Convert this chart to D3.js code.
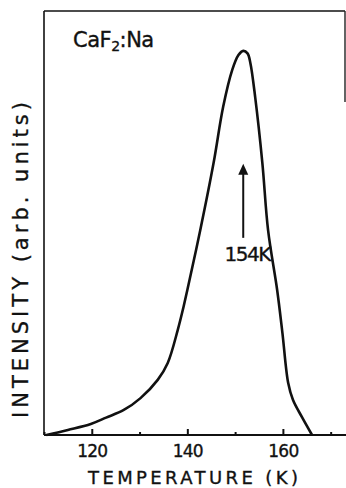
<!DOCTYPE html>
<html>
<head>
<meta charset="utf-8">
<script src="https://cdn.jsdelivr.net/npm/d3@7/dist/d3.min.js"></script>
<style>
  html, body { margin: 0; padding: 0; background: #fff; }
  svg { display: block; }
  text { font-family: "DejaVu Sans", "Liberation Sans", sans-serif; fill: #111; stroke: #111; stroke-width: 0.35px; }
</style>
</head>
<body>
<svg id="chart" width="346" height="488"></svg>
<script>
// Thermoluminescence glow curve of CaF2:Na
const temperature = [110.5, 115, 119.8, 123, 126.7, 130.2, 133.8, 135.9, 138.0, 139.2, 140.0, 142.7, 145.5, 147.5, 149.4, 150.7, 151.7, 152.6, 153.2, 154.2, 155.7, 156.9, 158.8, 159.9, 161.1, 162.1, 164.0, 166.1];
const intensity   = [0,     1.2, 2.6,   4.1, 5.9,   8.7,   13.0,  17.0,  24.8,  30.2,  34.2,  48.3,  64.2,  77.4,  86.1,  89.6,  90.6,  90.0,  87.7,  79.7,  64.2,  48.3,  34.2,  24.1,  12.3,  8.3,   4.2,   0];

const majorTicks = [120, 140, 160];
const minorTicks = [110, 130, 150, 170];
const tickLabels = ["120", "140", "160"];
const peakLabel = "154K";

const svg = d3.select("#chart");
const plotLeft = 44, plotRight = 345, plotTop = 11, plotBottom = 435;

const x = d3.scaleLinear().domain([110, 173]).range([plotLeft, plotRight]);
const y = d3.scaleLinear().domain([0, 100]).range([plotBottom, plotTop]);

// frame: left, top, partial right, bottom axis line
svg.append("line").attr("x1", plotLeft).attr("x2", plotLeft).attr("y1", plotTop).attr("y2", plotBottom)
  .attr("stroke", "#111").attr("stroke-width", 1.6);
svg.append("line").attr("x1", plotLeft).attr("x2", plotRight).attr("y1", plotTop).attr("y2", plotTop)
  .attr("stroke", "#111").attr("stroke-width", 1.6);
svg.append("line").attr("x1", plotRight).attr("x2", plotRight).attr("y1", plotTop).attr("y2", 102)
  .attr("stroke", "#222").attr("stroke-width", 1.4);

// bottom axis with inward ticks
const axisMajor = d3.axisBottom(x).tickValues(majorTicks).tickSize(-6)
  .tickFormat((d, i) => tickLabels[i]).tickPadding(10);
const gAxis = svg.append("g").attr("transform", `translate(0,${plotBottom})`).call(axisMajor);
gAxis.select(".domain").remove();
gAxis.selectAll(".tick line").attr("stroke", "#111").attr("stroke-width", 2);
gAxis.selectAll(".tick text").attr("font-size", 17)
  .style("font-family", '"DejaVu Sans", "Liberation Sans", sans-serif').attr("fill", "#111")
  .attr("dy", "0.72em").attr("letter-spacing", -0.8);

const axisMinor = d3.axisBottom(x).tickValues(minorTicks).tickSize(-3).tickFormat("");
const gMinor = svg.append("g").attr("transform", `translate(0,${plotBottom})`).call(axisMinor);
gMinor.select(".domain").remove();
gMinor.selectAll(".tick line").attr("stroke", "#111").attr("stroke-width", 2);

svg.append("line").attr("x1", plotLeft).attr("x2", 346).attr("y1", plotBottom).attr("y2", plotBottom)
  .attr("stroke", "#111").attr("stroke-width", 2);

// glow curve
const pts = temperature.map((t, i) => [t, intensity[i]]);
const line = d3.line().x(d => x(d[0])).y(d => y(d[1])).curve(d3.curveCatmullRom.alpha(0.5));
svg.append("path").datum(pts).attr("d", line)
  .attr("fill", "none").attr("stroke", "#111").attr("stroke-width", 2.6)
  .attr("stroke-linejoin", "round");

// arrow marking the glow peak
const peak = d3.greatest(pts, d => d[1]);
const ax = x(peak[0]);
const tipY = y(64), baseY = y(61.6), tailY = y(46.5);
svg.append("line").attr("x1", ax).attr("x2", ax).attr("y1", tailY).attr("y2", baseY)
  .attr("stroke", "#111").attr("stroke-width", 2);
svg.append("path")
  .attr("d", `M${ax},${tipY} L${ax - 5},${baseY + 1} L${ax + 5},${baseY + 1} Z`)
  .attr("fill", "#111");
svg.append("text").attr("x", ax + 4).attr("y", 261).attr("text-anchor", "middle")
  .attr("font-size", 20).attr("letter-spacing", -1.5).text(peakLabel);

// sample label
const sample = svg.append("text").attr("x", 73).attr("y", 47).attr("font-size", 21)
  .attr("letter-spacing", -0.5);
sample.append("tspan").text("CaF");
sample.append("tspan").attr("font-size", 14).attr("dy", 4).text("2");
sample.append("tspan").attr("dy", -4).text(":");
sample.append("tspan").text("Na");

// axis titles
svg.append("text").attr("x", 193).attr("y", 484).attr("text-anchor", "middle")
  .attr("font-size", 18).attr("textLength", 210).attr("lengthAdjust", "spacing")
  .text("TEMPERATURE (K)");
svg.append("text").attr("transform", "translate(28,260) rotate(-90)")
  .attr("text-anchor", "middle").attr("font-size", 21)
  .attr("textLength", 316).attr("lengthAdjust", "spacing")
  .text("INTENSITY (arb. units)");
</script>
</body>
</html>
